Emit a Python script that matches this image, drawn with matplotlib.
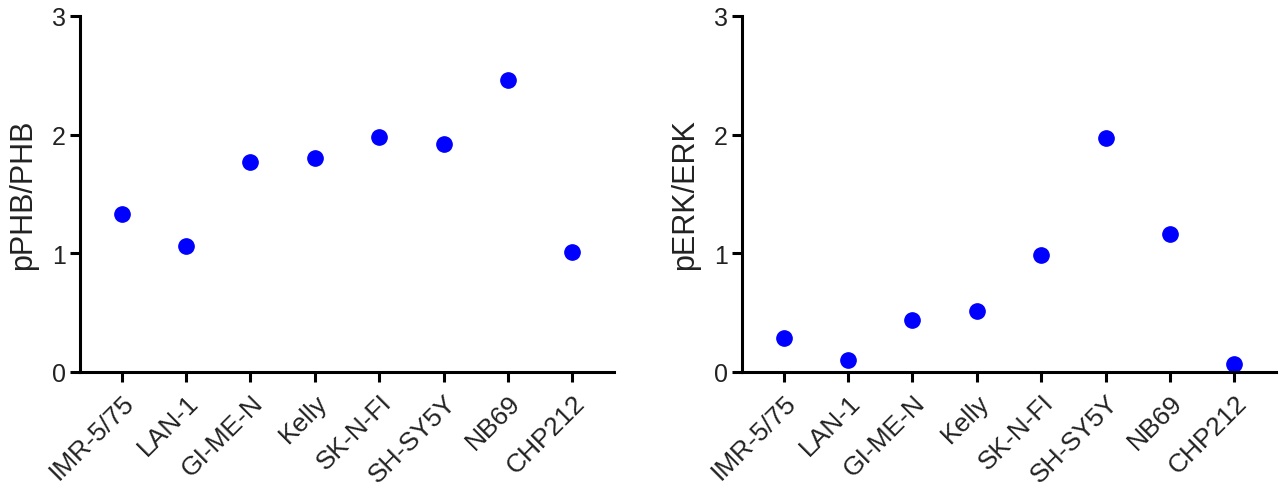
import matplotlib
matplotlib.use("Agg")
import matplotlib.pyplot as plt

CELL_LINES = ["IMR-5/75", "LAN-1", "GI-ME-N", "Kelly", "SK-N-FI", "SH-SY5Y", "NB69", "CHP212"]
PPHB_PHB = [1.33, 1.06, 1.77, 1.80, 1.98, 1.92, 2.46, 1.01]
PERK_ERK = [0.29, 0.10, 0.44, 0.51, 0.99, 1.97, 1.16, 0.07]
Y_TICKS = [0, 1, 2, 3]

plt.rcParams["font.family"] = ["Liberation Sans", "DejaVu Sans"]

W, H = 1284, 489
fig = plt.figure(figsize=(W / 100, H / 100), dpi=100)


def panel(rect, values, ylabel):
    ax = fig.add_axes(rect)
    xs = list(range(len(CELL_LINES)))
    ax.plot(xs, values, linestyle="none", marker="o", markersize=11,
            color="#0000ff", clip_on=False)
    ax.set_xlim(-0.65, 7.65)
    ax.set_ylim(0, 3)
    ax.set_yticks(Y_TICKS)
    ax.set_xticks(xs)
    ax.set_xticklabels(CELL_LINES, rotation=45, ha="right", rotation_mode="anchor")
    ax.set_ylabel(ylabel, fontsize=22, labelpad=10, color="#222222")
    for side in ("top", "right"):
        ax.spines[side].set_visible(False)
    for side in ("left", "bottom"):
        ax.spines[side].set_linewidth(2.2)
    ax.tick_params(axis="both", width=2.2, length=7, color="black", labelcolor="#222222")
    ax.tick_params(axis="x", pad=6, labelsize=19)
    ax.tick_params(axis="y", pad=3, labelsize=18)
    return ax


bottom = 1 - 373 / H
height = (373 - 17) / H
panel([80 / W, bottom, (614 - 80) / W, height], PPHB_PHB, "pPHB/PHB")
panel([742 / W, bottom, (1276 - 742) / W, height], PERK_ERK, "pERK/ERK")

fig.savefig("out.png", dpi=100)
